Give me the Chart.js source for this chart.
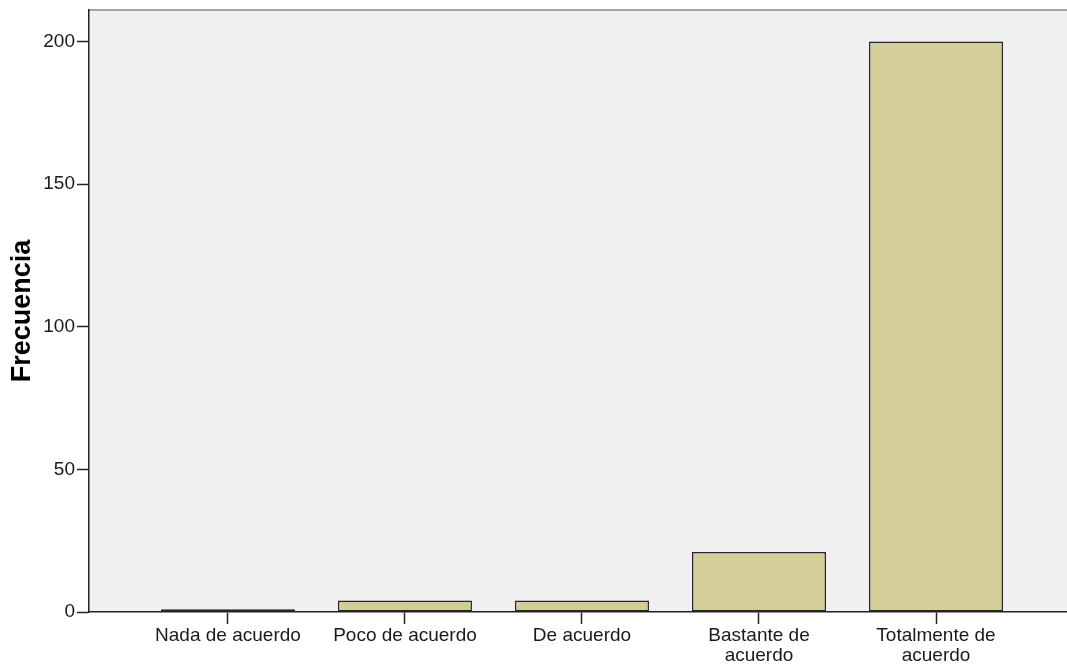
<!DOCTYPE html>
<html>
<head>
<meta charset="utf-8">
<script src="https://cdn.jsdelivr.net/npm/chart.js@4"></script>
<style>
  html, body { margin: 0; padding: 0; background: #ffffff; }
  #wrap { width: 1067px; height: 668px; }
</style>
</head>
<body>
<div id="wrap"><canvas id="freqChart"></canvas></div>
<script>
// Data
const categories = [
    ['Nada de acuerdo'],
    ['Poco de acuerdo'],
    ['De acuerdo'],
    ['Bastante de', 'acuerdo'],
    ['Totalmente de', 'acuerdo']
];
const frecuencias = [1, 4, 4, 21, 200];
const yTicks = [0, 50, 100, 150, 200];

// background + top frame of the plot area
const plotFrame = {
    id: 'plotFrame',
    beforeDraw(chart) {
        const { ctx, chartArea: a } = chart;
        ctx.save();
        ctx.fillStyle = '#f0f0f0';
        ctx.fillRect(a.left, a.top, a.right - a.left, a.bottom - a.top);
        ctx.strokeStyle = '#8a8a8a';
        ctx.lineWidth = 1.5;
        ctx.beginPath();
        ctx.moveTo(a.left, a.top);
        ctx.lineTo(a.right, a.top);
        ctx.stroke();
        ctx.restore();
    }
};

document.addEventListener('DOMContentLoaded', function() {
    const ctx = document.getElementById('freqChart').getContext('2d');
    new Chart(ctx, {
        type: 'bar',
        data: {
            datasets: [{
                label: 'Frecuencia',
                data: frecuencias.map((v, i) => ({ x: i, y: v })),
                backgroundColor: '#d3ce97',
                borderColor: '#262626',
                borderWidth: 1.5,
                borderSkipped: false,
                categoryPercentage: 1,
                barPercentage: 0.757
            }]
        },
        options: {
            responsive: true,
            maintainAspectRatio: false,
            animation: false,
            layout: { padding: { top: 10, right: 0, left: 0, bottom: 0 } },
            plugins: {
                legend: { display: false },
                tooltip: { enabled: false }
            },
            scales: {
                x: {
                    type: 'linear',
                    offset: false,
                    min: -0.785,
                    max: 4.74,
                    afterBuildTicks: axis => {
                        axis.ticks = categories.map((c, i) => ({ value: i }));
                    },
                    afterFit: axis => {
                        axis.height = 56;
                        axis.paddingLeft = 0;
                        axis.paddingRight = 0;
                    },
                    grid: {
                        offset: false,
                        drawOnChartArea: false,
                        drawTicks: true,
                        tickLength: 12,
                        tickWidth: 1.5,
                        tickColor: '#222222'
                    },
                    border: { display: true, color: '#222222', width: 1.5 },
                    ticks: {
                        autoSkip: false,
                        maxRotation: 0,
                        padding: 2,
                        color: '#1a1a1a',
                        font: { family: '"Liberation Sans", Arial, sans-serif', size: 19, lineHeight: 1.05 },
                        callback: value => categories[value]
                    }
                },
                y: {
                    min: 0,
                    max: 211,
                    afterBuildTicks: axis => {
                        axis.ticks = yTicks.map(v => ({ value: v }));
                    },
                    afterFit: axis => {
                        axis.width = 89;
                        axis.paddingTop = 0;
                        axis.paddingBottom = 0;
                    },
                    grid: {
                        drawOnChartArea: false,
                        drawTicks: true,
                        tickLength: 12,
                        tickWidth: 1.5,
                        tickColor: '#222222'
                    },
                    border: { display: true, color: '#222222', width: 1.5 },
                    ticks: {
                        padding: 2,
                        color: '#1a1a1a',
                        font: { family: '"Liberation Sans", Arial, sans-serif', size: 19 }
                    },
                    title: {
                        display: true,
                        text: 'Frecuencia',
                        color: '#000000',
                        padding: { top: 6, bottom: 0 },
                        font: { family: '"Liberation Sans", Arial, sans-serif', size: 27, weight: 'bold' }
                    }
                }
            }
        },
        plugins: [plotFrame]
    });
});
</script>
</body>
</html>
